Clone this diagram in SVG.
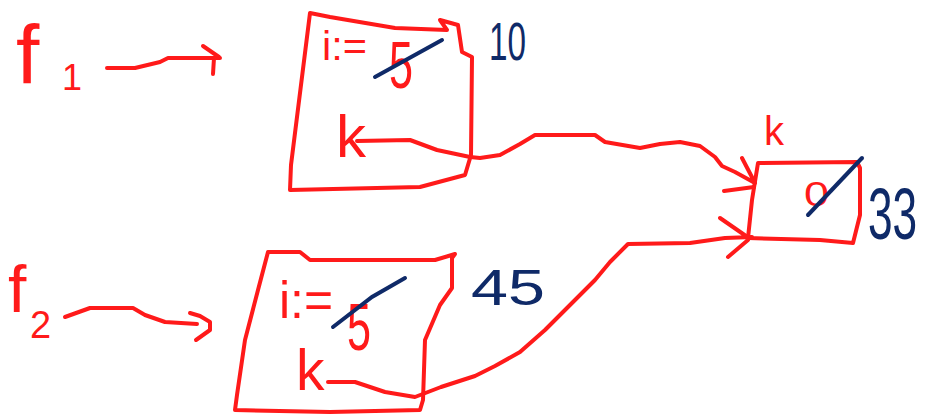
<svg xmlns="http://www.w3.org/2000/svg" width="926" height="414" viewBox="0 0 926 414">
<style>
.r{fill:none;stroke:#ff1a1a;stroke-width:4;stroke-linecap:round;stroke-linejoin:round}
.b{fill:none;stroke:#0f2a68;stroke-width:4;stroke-linecap:round}
.tr{fill:#ff1a1a;font-family:"Liberation Sans",Arial,sans-serif}
.tb{fill:#0f2a68;font-family:"Liberation Sans",Arial,sans-serif}
</style>
<rect width="926" height="414" fill="#fff"/>
<g id="f1">
<text class="tr" x="16" y="84" font-size="84">f</text>
<text class="tr" x="62" y="90" font-size="36">1</text>
</g>
<g id="f2">
<text class="tr" x="8" y="312" font-size="66">f</text>
<text class="tr" x="30" y="338" font-size="38">2</text>
</g>
<g id="box1">
<path class="r" d="M310,13 L330,17 L395,28 L447,30 L440,20 L458,25 L462,52 L472,57 L471,155 L465,175 L420,187 L290,190 L291,165 Z"/>
<text class="tr" font-size="40"><tspan x="322" y="60" textLength="45" lengthAdjust="spacingAndGlyphs">i:=</tspan><tspan x="389" y="88" font-size="66" textLength="24" lengthAdjust="spacingAndGlyphs">5</tspan></text>
<path class="b" d="M375,77 L442,40"/>
<text class="tr" x="336" y="157" font-size="60">k</text>
<text class="tb" x="489" y="60" font-size="53" textLength="37" lengthAdjust="spacingAndGlyphs">10</text>
</g>
<g id="box2">
<path class="r" d="M268,252 L300,252 L310,260 L435,260 L455,254 L452,258 L452,288 L440,305 L425,340 L423,400 L420,410 L330,412 L235,410 L237,395 L245,340 L258,290 Z"/>
<text class="tr" font-size="52"><tspan x="279" y="318" textLength="54" lengthAdjust="spacingAndGlyphs">i:=</tspan><tspan x="347" y="350" font-size="66" textLength="24" lengthAdjust="spacingAndGlyphs">5</tspan></text>
<path class="b" d="M333,327 L372,297 L405,278"/>
<text class="tr" x="296" y="390" font-size="57">k</text>
<text class="tb" x="471" y="305" font-size="50" textLength="74" lengthAdjust="spacingAndGlyphs">45</text>
</g>
<g id="boxk">
<path class="r" d="M758,163 L857,162 L860,168 L860,215 L853,243 L820,240 L748,238 L752,200 Z"/>
<text class="tr" x="764" y="145" font-size="40">k</text>
<text class="tr" x="804" y="206" font-size="35" textLength="25" lengthAdjust="spacingAndGlyphs">0</text>
<path class="b" d="M808,215 L862,158"/>
<text class="tb" transform="translate(868,239) scale(0.85,1.4)" x="0" y="0" font-size="52">33</text>
</g>
<g id="connectors">
<path class="r" d="M107,68 L135,68 L160,62 L168,58 L220,58 M203,46 L219,57 M214,58 L213,74"/>
<path class="r" d="M65,317 L90,308 L133,308 L145,315 L165,322 L197,324 M190,313 L200,316 L210,322 L210,330 L196,340"/>
<path class="r" d="M357,141 L410,140 L437,150 L470,157 L480,158 L500,155 L520,144 L535,135 L595,135 L605,142 L640,148 L660,144 L680,142 L700,146 L715,157 L722,166 L735,172 L755,183 M742,158 L754,181 M724,191 L754,187"/>
<path class="r" d="M328,382 L355,382 L385,392 L415,397 L441,387 L475,376 L495,366 L520,352 L545,330 L570,305 L595,280 L610,262 L628,244 L690,243 L725,238 L752,237 M720,218 L746,236 M728,257 L748,240"/>
</g>
</svg>
